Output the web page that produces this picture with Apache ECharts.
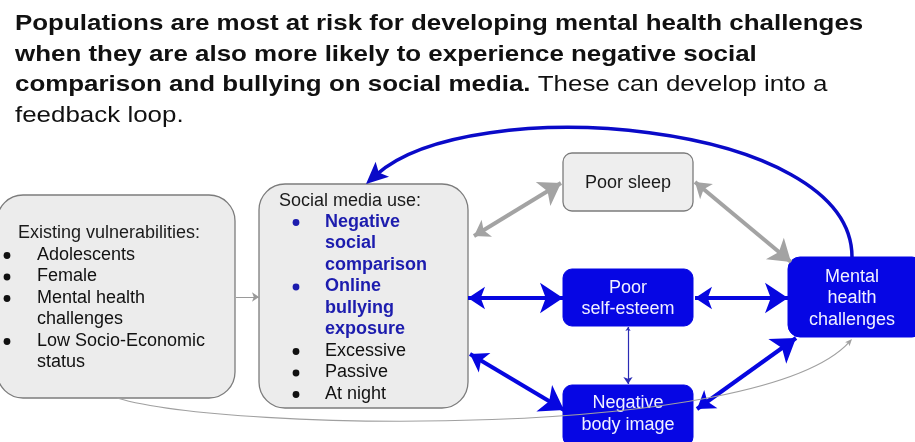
<!DOCTYPE html>
<html><head><meta charset="utf-8">
<script src="https://cdn.jsdelivr.net/npm/echarts@6/dist/echarts.min.js"></script>
<style>html,body{margin:0;padding:0;background:#fff}#c{width:915px;height:442px}</style>
</head><body><div id="c"></div>
<script>
// ---------- content ----------
const titleBold = [
  'Populations are most at risk for developing mental health challenges',
  'when they are also more likely to experience negative social',
  'comparison and bullying on social media.'
];
const titleNormal = [' These can develop into a', 'feedback loop.'];

const nodeKeys = ['vuln', 'social', 'sleep', 'esteem', 'body', 'mental'];
const nodeLabels = {
  sleep: 'Poor sleep',
  esteem: 'Poor\nself-esteem',
  body: 'Negative\nbody image',
  mental: 'Mental\nhealth\nchallenges'
};
const vulnHeader = 'Existing vulnerabilities:';
const vulnItems = ['Adolescents', 'Female', 'Mental health\nchallenges', 'Low Socio-Economic\nstatus'];
const socialHeader = 'Social media use:';
const socialKeyItems = ['Negative\nsocial\ncomparison', 'Online\nbullying\nexposure'];
const socialOtherItems = ['Excessive', 'Passive', 'At night'];

// links: [from, to, kind]
const straightLinks = [
  ['social', 'sleep', 'gray'],
  ['sleep', 'mental', 'gray'],
  ['social', 'esteem', 'blue'],
  ['esteem', 'mental', 'blue'],
  ['social', 'body', 'blue'],
  ['body', 'mental', 'blue'],
  ['esteem', 'body', 'thin'],
  ['vuln', 'social', 'small']
];
const curvedLinks = [
  ['mental', 'social', 'feedback'],
  ['vuln', 'mental', 'curveGray']
];

// ---------- layout (data units of a 915 x 442 plane) ----------
const boxLayout = {
  vuln:   { rect: [-3, 195, 235, 398], r: 26, fill: '#ececec', stroke: '#7c7c7c', lw: 1.3 },
  social: { rect: [259, 184, 468, 408], r: 26, fill: '#ececec', stroke: '#7c7c7c', lw: 1.3 },
  sleep:  { rect: [563, 153, 693, 211], r: 9, fill: '#eeeeee', stroke: '#7c7c7c', lw: 1.3, center: [628, 183], tc: '#1a1a1a' },
  esteem: { rect: [563, 269, 693, 326], r: 9, fill: '#0606e4', stroke: '#0606e4', lw: 1, center: [628, 298.5], tc: '#f0f0ff' },
  body:   { rect: [563, 385, 693, 446], r: 9, fill: '#0606e4', stroke: '#0606e4', lw: 1, center: [628, 414], tc: '#f0f0ff' },
  mental: { rect: [788, 257, 924, 337], r: 12, fill: '#0606e4', stroke: '#0606e4', lw: 1, center: [852, 298.5], tc: '#f0f0ff' }
};
const listLayout = {
  vuln:   { hx: 18, hy: 233, bx: 7, tx: 37, y0: 255, lh: 21.5 },
  social: { hx: 279, hy: 201, bx: 296, tx: 325, y0: 222, lh: 21.5 }
};
const linkTips = {
  'social-sleep':  [[474, 236], [561, 183]],
  'sleep-mental':  [[695, 182], [791, 262]],
  'social-esteem': [[468, 298], [563, 298]],
  'esteem-mental': [[695, 298], [788, 298]],
  'social-body':   [[470, 354], [564, 410]],
  'body-mental':   [[697, 409], [796, 338]],
  'esteem-body':   [[628, 327], [628, 384]],
  'vuln-social':   [[236, 297], [259, 297]]
};
const linkStyles = {
  gray:  { color: '#a3a3a3', width: 4,   symbol: ['arrow', 'arrow'], size: [15, 21] },
  blue:  { color: '#0606e0', width: 4,   symbol: ['arrow', 'arrow'], size: [17, 23] },
  thin:  { color: '#2b2bb5', width: 1.2, symbol: ['arrow', 'arrow'], size: [4, 7] },
  small: { color: '#9a9a9a', width: 1,   symbol: ['none', 'arrow'], size: [4, 7] }
};
const curveGeom = {
  'mental-social': { p0: [852, 257], c1: [852, 120], c2: [470, 90], tip: [366, 184] },
  'vuln-mental':   { p0: [117, 398], c1: [230, 432], c2: [760, 440], tip: [852, 339] }
};
const curveStyles = {
  feedback:  { color: '#0a0ac8', width: 3.5, head: [22, 10] },
  curveGray: { color: '#a0a0a0', width: 1.1, head: [7, 3] }
};

const FONT = '"Liberation Sans", Arial, sans-serif';

// ---------- builders ----------
const lineSeries = Object.keys(linkStyles).map(kind => {
  const st = linkStyles[kind];
  const data = straightLinks.filter(l => l[2] === kind).map(l => ({ coords: linkTips[l[0] + '-' + l[1]] }));
  return {
    type: 'lines', coordinateSystem: 'cartesian2d', silent: true, z: 5,
    symbol: st.symbol, symbolSize: st.size,
    lineStyle: { color: st.color, width: st.width, opacity: 1, curveness: 0 },
    data
  };
});

function addText(children, api, pos, text, color, bold, align) {
  const c = api.coord(pos);
  children.push({
    type: 'text', x: c[0], y: c[1],
    style: { text, fill: color, font: (bold ? 'bold ' : '') + '18px ' + FONT,
             align: align || 'left', verticalAlign: 'middle', lineHeight: 21.5 }
  });
}

function addList(children, api, key, header, groups) {
  const L = listLayout[key];
  addText(children, api, [L.hx, L.hy], header, '#1a1a1a', false);
  let line = 0;
  groups.forEach(g => {
    g.items.forEach(item => {
      const y = L.y0 + line * L.lh;
      const bc = api.coord([L.bx, y + 0.5]);
      children.push({ type: 'circle', shape: { cx: bc[0], cy: bc[1], r: 3.4 }, style: { fill: g.color } });
      const parts = item.split('\n');
      parts.forEach((p, k) => addText(children, api, [L.tx, y + k * L.lh], p, g.color, g.bold));
      line += parts.length;
    });
  });
}

function renderNode(params, api) {
  const key = nodeKeys[params.dataIndex];
  const B = boxLayout[key];
  const p0 = api.coord([B.rect[0], B.rect[1]]);
  const p1 = api.coord([B.rect[2], B.rect[3]]);
  const children = [{
    type: 'rect',
    shape: { x: p0[0], y: p0[1], width: p1[0] - p0[0], height: p1[1] - p0[1], r: B.r },
    style: { fill: B.fill, stroke: B.stroke, lineWidth: B.lw }
  }];
  if (nodeLabels[key]) {
    addText(children, api, B.center, nodeLabels[key], B.tc, false, 'center');
  } else if (key === 'vuln') {
    addList(children, api, key, vulnHeader, [{ items: vulnItems, color: '#111', bold: false }]);
  } else if (key === 'social') {
    addList(children, api, key, socialHeader, [
      { items: socialKeyItems, color: '#1c1cae', bold: true },
      { items: socialOtherItems, color: '#111', bold: false }
    ]);
  }
  return { type: 'group', children };
}

function renderCurve(params, api) {
  const l = curvedLinks[params.dataIndex];
  const g = curveGeom[l[0] + '-' + l[1]];
  const st = curveStyles[l[2]];
  const P0 = api.coord(g.p0), C1 = api.coord(g.c1), C2 = api.coord(g.c2), T = api.coord(g.tip);
  let dx = T[0] - C2[0], dy = T[1] - C2[1];
  const L = Math.hypot(dx, dy); dx /= L; dy /= L;
  const nx = -dy, ny = dx;
  const hl = st.head[0], hw = st.head[1];
  const E = [T[0] - dx * hl * 0.6, T[1] - dy * hl * 0.6];
  const pts = [
    T,
    [T[0] - dx * hl + nx * hw, T[1] - dy * hl + ny * hw],
    [T[0] - dx * hl * 0.78, T[1] - dy * hl * 0.78],
    [T[0] - dx * hl - nx * hw, T[1] - dy * hl - ny * hw]
  ];
  return {
    type: 'group',
    children: [
      { type: 'bezierCurve',
        shape: { x1: P0[0], y1: P0[1], cpx1: C1[0], cpy1: C1[1], cpx2: C2[0], cpy2: C2[1], x2: E[0], y2: E[1] },
        style: { stroke: st.color, lineWidth: st.width, fill: null } },
      { type: 'polygon', shape: { points: pts }, style: { fill: st.color } }
    ]
  };
}

const titleText =
  titleBold.slice(0, 2).map(t => '{b|' + t + '}').join('\n') + '\n' +
  '{b|' + titleBold[2] + '}{n|' + titleNormal[0] + '}\n' +
  '{n|' + titleNormal[1] + '}';

const chart = echarts.init(document.getElementById('c'), null, { renderer: 'canvas' });
chart.setOption({
  animation: false,
  backgroundColor: '#ffffff',
  grid: { left: 0, right: 0, top: 0, bottom: 0 },
  xAxis: { type: 'value', min: 0, max: 915, show: false },
  yAxis: { type: 'value', min: 0, max: 442, inverse: true, show: false },
  graphic: [{
    type: 'text', x: 15, y: 9, scaleX: 1.178, z: 10,
    style: {
      text: titleText,
      font: 'bold 22px ' + FONT,
      verticalAlign: 'top',
      rich: {
        b: { font: 'bold 22px ' + FONT, fill: '#111', lineHeight: 30.5 },
        n: { font: '22px ' + FONT, fill: '#111', lineHeight: 30.5 }
      }
    }
  }],
  series: [
    { type: 'custom', coordinateSystem: 'cartesian2d', silent: true, z: 2,
      renderItem: renderNode, data: nodeKeys.map((k, i) => [i, 0]) },
    ...lineSeries,
    { type: 'custom', coordinateSystem: 'cartesian2d', silent: true, z: 6,
      renderItem: renderCurve, data: curvedLinks.map((k, i) => [i, 0]) }
  ]
});
</script></body></html>
